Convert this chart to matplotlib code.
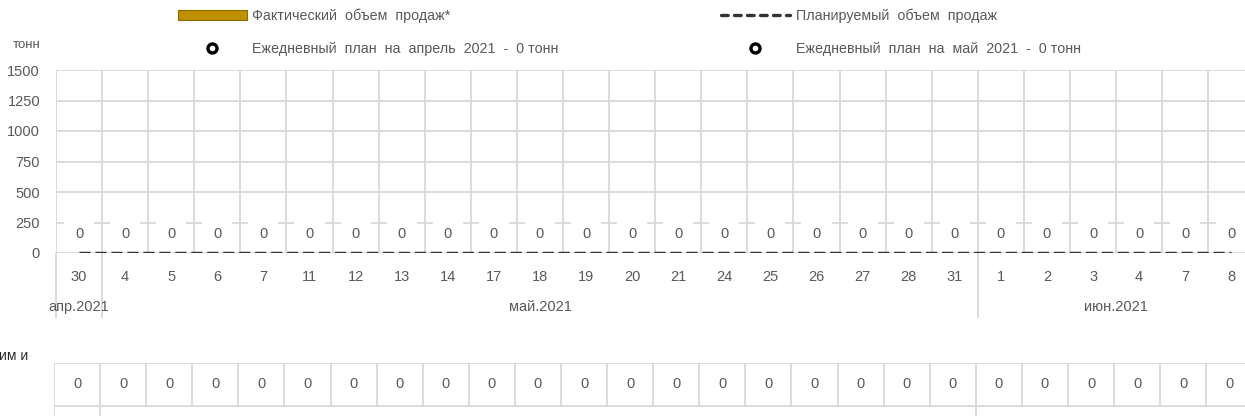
import numpy as np
import matplotlib
matplotlib.use("Agg")
import matplotlib.pyplot as plt
from matplotlib.patches import Patch
from matplotlib.lines import Line2D

plt.rcParams['font.family'] = ['Liberation Sans', 'DejaVu Sans']

# trading days and the month each group of days belongs to
days = ['30', '4', '5', '6', '7', '11', '12', '13', '14', '17', '18', '19', '20',
        '21', '24', '25', '26', '27', '28', '31', '1', '2', '3', '4', '7', '8']
months = ['апр.2021', 'май.2021', 'июн.2021']
month_days = [1, 19, 6]

fact_sales = [0] * 26        # tonnes actually sold
plan_sales = [0] * 26        # planned tonnes
table_values = [0] * 26      # values shown in the row under the chart
april_plan = 0
may_plan = 0

yticks = [0, 250, 500, 750, 1000, 1250, 1500]

GRID = '#d9d9d9'
TEXT = '#595959'
GOLD = '#bf9000'
DARK = '#333333'

W, H = 1245, 416
fig = plt.figure(figsize=(W / 100, H / 100), dpi=100)

# main chart area, pixel geometry converted to figure fractions
left, right, top, bottom = 56, 1254.4, 70, 253
ax = fig.add_axes([left / W, (H - bottom) / H, (right - left) / W, (bottom - top) / H])
x = np.arange(len(days))
ax.set_xlim(-0.5, len(days) - 0.5)
ax.set_ylim(0, 1500)
for s in ax.spines.values():
    s.set_visible(False)

for y in yticks:
    ax.axhline(y, color=GRID, lw=1.3, zorder=0)
for b in np.arange(-0.5, len(days)):
    ax.axvline(b, color=GRID, lw=1.3, zorder=0)

ax.bar(x, fact_sales, width=0.6, color=GOLD, zorder=2)
ax.plot(x, plan_sales, color=DARK, lw=2.5, ls=(0, (3.2, 1.4)), zorder=3)

for i, v in enumerate(fact_sales):
    ax.annotate(f'{v:g}', (i, v), xytext=(0, 14.0), textcoords='offset points',
                ha='center', va='center', fontsize=10.5, color=TEXT, zorder=4,
                bbox=dict(boxstyle='square,pad=0.75', fc='white', ec='none'))

ax.set_yticks(yticks)
ax.set_yticklabels([str(t) for t in yticks])
ax.set_xticks(x)
ax.set_xticklabels(days)
ax.tick_params(axis='y', length=0, pad=11.5, labelsize=10.5, labelcolor=TEXT)
ax.tick_params(axis='x', length=0, pad=12, labelsize=10.5, labelcolor=TEXT)

# month level of the category axis
trans = ax.get_xaxis_transform()
edges = np.concatenate([[0], np.cumsum(month_days)]) - 0.5
for e in edges:
    ax.plot([e, e], [0, -0.352], transform=trans, color=GRID, lw=1.3, clip_on=False)
for m, a, b in zip(months, edges[:-1], edges[1:]):
    ax.text((a + b) / 2, -0.296, m, transform=trans, ha='center', va='center',
            fontsize=10.5, color=TEXT)

fig.text(40 / W, 1 - 45 / H, 'тонн', ha='right', va='center', fontsize=9.5, color=TEXT)

# legend
handles = [
    Patch(facecolor=GOLD, edgecolor='#8c6a00', lw=0.8),
    Line2D([], [], ls='none', marker='o', ms=6.5, mfc='white', mec='black', mew=2.4),
    Line2D([], [], color=DARK, lw=2.4, ls=(0, (2.0, 1.9)), dash_capstyle='round'),
    Line2D([], [], ls='none', marker='o', ms=6.5, mfc='white', mec='black', mew=2.4),
]
labels = [
    'Фактический  объем  продаж*',
    f'Ежедневный  план  на  апрель  2021  -  {april_plan} тонн',
    'Планируемый  объем  продаж',
    f'Ежедневный  план  на  май  2021  -  {may_plan} тонн',
]
leg = fig.legend(handles, labels, ncol=2, loc='upper left',
                 bbox_to_anchor=(178 / W, 1 - 8.5 / H), frameon=False,
                 fontsize=10.3, labelcolor=TEXT, handlelength=4.8,
                 handleheight=0.65, handletextpad=0.4, columnspacing=11.35,
                 labelspacing=1.3, borderpad=0, borderaxespad=0)

# value row under the chart
t_left, t_top = 54, 363
row_h = 43
tab = fig.add_axes([t_left / W, (H - t_top - 2 * row_h) / H, (right - left) / W, 2 * row_h / H])
tab.set_xlim(-0.5, len(days) - 0.5)
tab.set_ylim(2, 0)
tab.axis('off')
for y in [0, 1, 2]:
    tab.axhline(y, color=GRID, lw=1.3)
for b in np.arange(-0.5, len(days)):
    tab.plot([b, b], [0, 1], color=GRID, lw=1.3)
for e in edges:
    tab.plot([e, e], [1, 2], color=GRID, lw=1.3)
for i, v in enumerate(table_values):
    tab.text(i, 0.5, f'{v:g}', ha='center', va='center', fontsize=10.5, color=TEXT)

fig.text(28 / W, 1 - 356 / H, 'им и', ha='right', va='center', fontsize=10, color='#262626')

fig.savefig('out.png', dpi=100)
